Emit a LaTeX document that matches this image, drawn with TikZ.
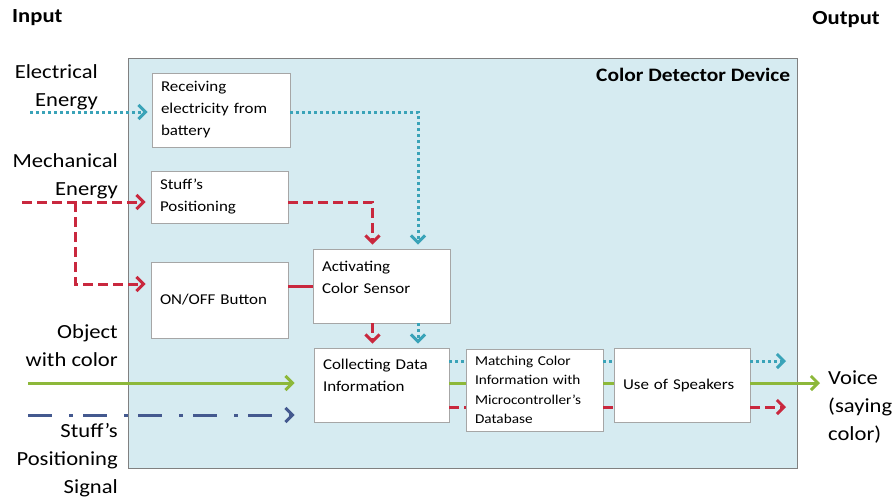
\documentclass[tikz,border=0pt]{standalone}
\usepackage{fontspec}
\setmainfont{Carlito}[FakeStretch=1.13]
\usetikzlibrary{arrows.meta,positioning}
\definecolor{devfill}{HTML}{D6EBF1}
\definecolor{powerc}{HTML}{3AA3B8}
\definecolor{mechc}{HTML}{C9283E}
\definecolor{objc}{HTML}{8DB83A}
\definecolor{sigc}{HTML}{44598F}

\begin{document}
\begin{tikzpicture}[x=1pt,y=-1pt,
    >={Straight Barb[length=7pt,width=14pt]},
    stage/.style={draw=black!35, fill=white, line width=0.8pt, align=left,
      inner xsep=9pt, inner ysep=7pt, font=\fontsize{15}{22}\selectfont},
    topstage/.style={stage, text height=11pt},
    flowlabel/.style={inner sep=0pt, font=\fontsize{20}{28}\selectfont},
    headlabel/.style={inner sep=0pt, font=\bfseries\fontsize{20}{24}\selectfont},
    power/.style={powerc, line width=3pt, dash pattern=on 3pt off 3pt},
    mech/.style={mechc, line width=3pt, dash pattern=on 10pt off 5pt},
    obj/.style={objc, line width=3pt},
    sig/.style={sigc, line width=3pt, dash pattern=on 24pt off 17pt on 4pt off 10pt}]
  \useasboundingbox (0,0) rectangle (895,499);

  \node[draw=black!50, fill=devfill, line width=1pt, minimum width=669pt, minimum height=410pt] (dev) at (462.5,263) {};
  \node[headlabel, font=\bfseries\fontsize{19}{23}\selectfont, anchor=north east] (devname) at ([xshift=-7pt,yshift=-10pt]dev.north east) {Color Detector Device};

  \node[headlabel, anchor=west] (input) at (12,18) {Input};
  \node[headlabel, anchor=east] (output) at (880,20) {Output};

  \node[topstage, text width=120pt, text depth=49pt] (recv) at (221,110) {Receiving\\electricity from\\battery};
  \node[topstage, text width=119pt, text depth=27pt] (stuff) at (219.5,197) {Stuff's\\Positioning};
  \node[stage, text width=119pt, minimum height=76pt] (onoff) at (219.5,300) {ON/OFF Button};
  \node[topstage, text width=119pt, text height=15pt, text depth=45pt] (act) at (381.5,286) {Activating\\Color Sensor};
  \node[topstage, text width=117pt, text height=14pt, text depth=46pt] (coll) at (381.5,385) {Collecting Data\\Information};
  \node[stage, text width=119pt, minimum height=80pt, font=\fontsize{13.5}{19.5}\selectfont] (match) at (534.5,390) {Matching Color\\Information with\\Microcontroller's\\Database};
  \node[stage, text width=118pt, minimum height=74pt] (speak) at (682,385) {Use of Speakers};

  \node[flowlabel, align=right, anchor=east] (elec) at (98,87) {Electrical\\Energy};
  \node[flowlabel, align=right, anchor=east] (mechin) at (118,176) {Mechanical\\Energy};
  \node[flowlabel, align=right, anchor=east] (objin) at (118,346) {Object\\with color};
  \node[flowlabel, align=right, anchor=east] (sigin) at (118,460) {Stuff's\\Positioning\\Signal};
  \node[flowlabel, align=left, anchor=west] (voice) at (828,407) {Voice\\(saying\\color)};

  \coordinate (elecstart) at (30,112);
  \coordinate (mechstart) at (22,202);
  \coordinate (mechsplit) at (75,202);
  \coordinate (objstart) at (28,383);
  \coordinate (sigstart) at (28,415);
  \coordinate (powerout) at (786,361);
  \coordinate (mechout) at (786,407);

  \draw[power,->,shorten >=4pt] (elecstart) -- (recv.west |- elecstart);
  \draw[power,->,shorten >=4pt] (recv.east |- elecstart) -| ([xshift=36.5pt]act.north);
  \draw[mech,->,shorten >=5pt] (mechstart) -- (stuff.west |- mechstart);
  \draw[mech,->,shorten >=5pt] (mechsplit) |- ([yshift=16pt]onoff.west);
  \draw[mech,->,shorten >=4pt] (stuff.east |- mechstart) -| ([xshift=-9pt]act.north);
  \draw[mechc, line width=3pt] (act.west -| onoff.east) -- (act.west);

  \draw[mech,->,shorten >=4pt] ([xshift=-9pt]act.south) -- ([xshift=-9pt]coll.north);
  \draw[power,->,shorten >=4pt] ([xshift=36.5pt]act.south) -- ([xshift=36.5pt]coll.north);
  \draw[obj,->,shorten >=19pt] (objstart) -- (coll.west |- objstart);
  \draw[sig,->,shorten >=19pt] (sigstart) -- (coll.west |- sigstart);

  \draw[power] (coll.east |- powerout) -- (match.west |- powerout);
  \draw[obj] (coll.east |- objstart) -- (match.west |- objstart);
  \draw[mech] (coll.east |- mechout) -- (match.west |- mechout);
  \draw[power] (match.east |- powerout) -- (speak.west |- powerout);
  \draw[obj] (match.east |- objstart) -- (speak.west |- objstart);
  \draw[mech] (match.east |- mechout) -- (speak.west |- mechout);

  \draw[power,->] (speak.east |- powerout) -- (powerout);
  \draw[obj,->,shorten >=8pt] (speak.east |- objstart) -- (voice.west |- objstart);
  \draw[mech,->] (speak.east |- mechout) -- (mechout);
\end{tikzpicture}
\end{document}
